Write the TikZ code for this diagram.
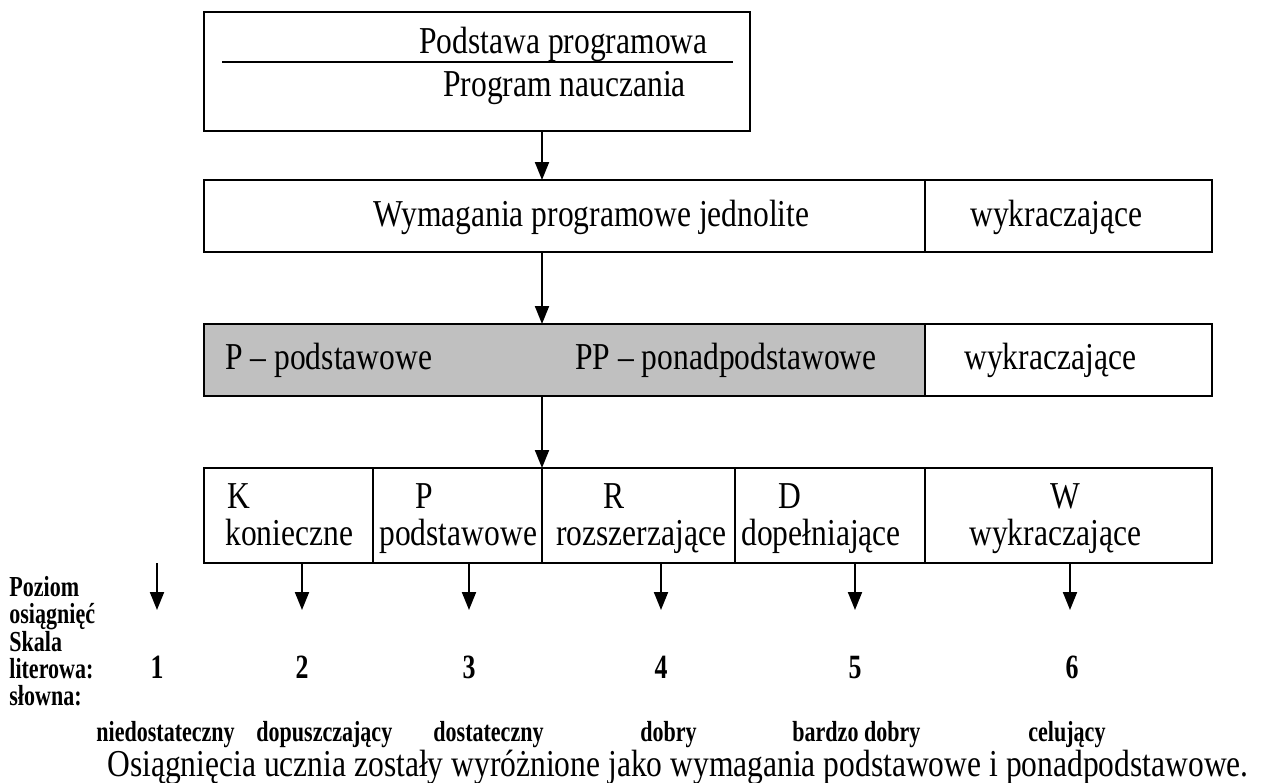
\documentclass[tikz,border=0pt]{standalone}
\usepackage{fontspec}
\setmainfont{Liberation Serif}[FakeStretch=0.83]
\newfontfamily\condbf{Liberation Serif}[FakeStretch=0.76]
\usetikzlibrary{arrows.meta}
\definecolor{boxgray}{HTML}{C0C0C0}
\begin{document}
\begin{tikzpicture}[x=0.5pt,y=-0.5pt,
  box/.style={draw,line width=1pt,inner sep=0pt,outer sep=0pt,anchor=north west},
  txt/.style={inner sep=0pt,anchor=base west,font=\fontsize{19}{22}\selectfont},
  lbl/.style={inner sep=0pt,anchor=base west,font=\condbf\bfseries\fontsize{14.5}{16}\selectfont},
  num/.style={inner sep=0pt,anchor=base,font=\condbf\bfseries\fontsize{17}{19}\selectfont},
  arr/.style={line width=1pt,-{Triangle[length=9pt,width=7pt]}},
]
\useasboundingbox (0,0) rectangle (1268,782);

% top box
\node[box,minimum width=273pt,minimum height=59.5pt] (b1) at (204,12) {};
\draw[line width=1pt] (222,62) -- (733,62);
\node[txt] (t1a) at (419,53) {Podstawa programowa};
\node[txt] (t1b) at (443,96) {Program nauczania};

% second row
\node[box,minimum width=360.5pt,minimum height=36pt] (b2a) at (204,180) {};
\node[box,minimum width=143.5pt,minimum height=36pt] (b2b) at (925,180) {};
\node[txt] (t2a) at (373,226) {Wymagania programowe jednolite};
\node[txt] (t2b) at (970,226) {wykraczające};

% third row
\node[box,fill=boxgray,minimum width=360.5pt,minimum height=36pt] (b3a) at (204,324) {};
\node[box,minimum width=143.5pt,minimum height=36pt] (b3b) at (925,324) {};
\node[txt] (t3a) at (225,369) {P -- podstawowe};
\node[txt] (t3b) at (575,369) {PP -- ponadpodstawowe};
\node[txt] (t3c) at (964,369) {wykraczające};

% fourth row
\node[box,minimum width=84.5pt,minimum height=47.5pt] (k4) at (204,468) {};
\node[box,minimum width=84.5pt,minimum height=47.5pt] (p4) at (373,468) {};
\node[box,minimum width=96.5pt,minimum height=47.5pt] (r4) at (542,468) {};
\node[box,minimum width=95pt,minimum height=47.5pt] (d4) at (735,468) {};
\node[box,minimum width=143.5pt,minimum height=47.5pt] (w4) at (925,468) {};
\node[txt] (k4a) at (227,508) {K};
\node[txt] (k4b) at (225,545) {konieczne};
\node[txt] (p4a) at (415,508) {P};
\node[txt] (p4b) at (379,545) {podstawowe};
\node[txt] (r4a) at (603,508) {R};
\node[txt] (r4b) at (556,545) {rozszerzające};
\node[txt] (d4a) at (778,508) {D};
\node[txt] (d4b) at (741,545) {dopełniające};
\node[txt] (w4a) at (1050,508) {W};
\node[txt] (w4b) at (969,545) {wykraczające};

% main connectors
\coordinate (ax) at (542,0);
\draw[arr] (b1.south -| ax) -- (b2a.north -| ax);
\draw[arr] (b2a.south -| ax) -- (b3a.north -| ax);
\draw[arr] (b3a.south -| ax) -- (p4.north east);

% small arrows
\coordinate (s1a) at (157,563); \coordinate (s1b) at (157,610);
\coordinate (s2) at (302,610);
\coordinate (s3) at (469,610);
\coordinate (s4) at (661,610);
\coordinate (s5) at (855,610);
\coordinate (s6) at (1070,610);
\draw[arr] (s1a) -- (s1b);
\draw[arr] (k4.south -| s2) -- (s2);
\draw[arr] (p4.south -| s3) -- (s3);
\draw[arr] (r4.south -| s4) -- (s4);
\draw[arr] (d4.south -| s5) -- (s5);
\draw[arr] (w4.south -| s6) -- (s6);

% left labels
\node[lbl] (l1) at (9,596) {Poziom};
\node[lbl] (l2) at (9,623) {osiągnięć};
\node[lbl] (l3) at (9,651) {Skala};
\node[lbl] (l4) at (9,678) {literowa:};
\node[lbl] (l5) at (9,705) {słowna:};

% numbers
\node[num] (n1) at (157,678) {1};
\node[num] (n2) at (302,678) {2};
\node[num] (n3) at (469,678) {3};
\node[num] (n4) at (661,678) {4};
\node[num] (n5) at (855,678) {5};
\node[num] (n6) at (1072,678) {6};

% grade words
\node[lbl] (g1) at (96,741) {niedostateczny};
\node[lbl] (g2) at (256,741) {dopuszczający};
\node[lbl] (g3) at (433,741) {dostateczny};
\node[lbl] (g4) at (640,741) {dobry};
\node[lbl] (g5) at (792,741) {bardzo dobry};
\node[lbl] (g6) at (1028,741) {celujący};

% bottom sentence
\node[txt] (sent) at (107,776) {Osiągnięcia ucznia zostały wyróżnione jako wymagania podstawowe i ponadpodstawowe.};
\end{tikzpicture}
\end{document}
